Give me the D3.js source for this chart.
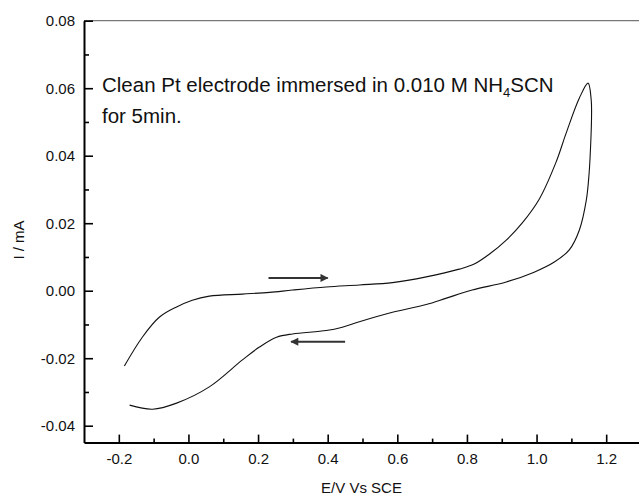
<!DOCTYPE html>
<html>
<head>
<meta charset="utf-8">
<script src="https://cdn.jsdelivr.net/npm/d3@7"></script>
<style>
  body { margin: 0; background: #fff; }
  svg { display: block; font-family: "Liberation Sans", Arial, Helvetica, sans-serif; }
</style>
</head>
<body>
<div id="chart"></div>
<script>
// forward scan (E in V vs SCE, I in mA)
const fwdE = [-0.184, -0.132, -0.083, -0.034, 0.011, 0.060, 0.155, 0.233, 0.299, 0.396, 0.491, 0.586, 0.683, 0.778, 0.821, 0.864, 0.913, 0.959, 1.008, 1.056, 1.085, 1.123, 1.148];
const fwdI = [-0.0223, -0.0137, -0.0078, -0.0048, -0.0028, -0.0016, -0.0010, -0.0005, 0.0002, 0.0011, 0.0017, 0.0024, 0.0041, 0.0064, 0.0079, 0.0108, 0.0150, 0.0201, 0.0272, 0.0381, 0.0467, 0.0571, 0.0615];
// reverse scan
const revE = [1.157, 1.158, 1.156, 1.151, 1.143, 1.123, 1.094, 1.051, 0.993, 0.913, 0.815, 0.741, 0.683, 0.586, 0.491, 0.442, 0.396, 0.299, 0.253, 0.204, 0.155, 0.060, -0.034, -0.103, -0.169];
const revI = [0.0565, 0.0521, 0.0447, 0.0349, 0.0269, 0.0180, 0.0121, 0.0085, 0.0055, 0.0026, 0.0002, -0.0022, -0.0041, -0.0064, -0.0092, -0.0108, -0.0118, -0.0128, -0.0138, -0.0167, -0.0205, -0.0285, -0.0333, -0.0351, -0.0339];

// scan direction arrows: [E start, E end, I]
const arrows = [[0.23, 0.40, 0.0038], [0.45, 0.295, -0.0151]];

// ticks
const xTicks = [-0.2, 0.0, 0.2, 0.4, 0.6, 0.8, 1.0, 1.2];
const xTickLabels = ["-0.2", "0.0", "0.2", "0.4", "0.6", "0.8", "1.0", "1.2"];
const xMinor = [-0.1, 0.1, 0.3, 0.5, 0.7, 0.9, 1.1];
const yTicks = [-0.04, -0.02, 0.00, 0.02, 0.04, 0.06, 0.08];
const yTickLabels = ["-0.04", "-0.02", "0.00", "0.02", "0.04", "0.06", "0.08"];
const yMinor = [-0.03, -0.01, 0.01, 0.03, 0.05, 0.07];

const width = 639, height = 496;
const margin = {top: 20.7, right: -2, bottom: 53.4, left: 84};

const x = d3.scaleLinear().domain([-0.3, 1.3]).range([margin.left, width - margin.right]);
const y = d3.scaleLinear().domain([-0.045, 0.08]).range([height - margin.bottom, margin.top]);

const svg = d3.select("#chart").append("svg")
  .attr("width", width)
  .attr("height", height);

svg.append("rect").attr("width", width).attr("height", height).attr("fill", "#fff");

// arrow head
svg.append("defs").append("marker")
  .attr("id", "head")
  .attr("viewBox", "0 0 10 10")
  .attr("refX", 9).attr("refY", 5)
  .attr("markerWidth", 6).attr("markerHeight", 4)
  .attr("markerUnits", "strokeWidth")
  .attr("orient", "auto")
  .append("path")
  .attr("d", "M0,0L10,5L0,10z")
  .attr("fill", "#333");

// top frame line
svg.append("line")
  .attr("x1", x(-0.3)).attr("x2", width)
  .attr("y1", y(0.08)).attr("y2", y(0.08))
  .attr("stroke", "#777").attr("stroke-width", 1.3);

// minor ticks
svg.append("g")
  .attr("transform", `translate(0,${y(-0.045)})`)
  .call(d3.axisBottom(x).tickValues(xMinor).tickSize(-4).tickFormat(""))
  .call(g => g.select(".domain").remove())
  .call(g => g.selectAll("line").attr("stroke-width", 1.6));
svg.append("g")
  .attr("transform", `translate(${x(-0.3)},0)`)
  .call(d3.axisLeft(y).tickValues(yMinor).tickSize(-5).tickFormat(""))
  .call(g => g.select(".domain").remove())
  .call(g => g.selectAll("line").attr("stroke-width", 1.6));

// x axis
svg.append("g")
  .attr("transform", `translate(0,${y(-0.045)})`)
  .call(d3.axisBottom(x).tickValues(xTicks).tickSize(-8).tickSizeOuter(0).tickPadding(11)
    .tickFormat((d, i) => xTickLabels[i]))
  .call(g => g.select(".domain").attr("stroke-width", 2))
  .call(g => g.selectAll("line").attr("stroke-width", 1.6))
  .call(g => g.selectAll("text").attr("font-size", 15).attr("fill", "#111").attr("font-family", null));

// y axis
svg.append("g")
  .attr("transform", `translate(${x(-0.3)},0)`)
  .call(d3.axisLeft(y).tickValues(yTicks).tickSize(-9).tickSizeOuter(0).tickPadding(9)
    .tickFormat((d, i) => yTickLabels[i]))
  .call(g => g.select(".domain").attr("stroke-width", 2))
  .call(g => g.selectAll("line").attr("stroke-width", 1.6))
  .call(g => g.selectAll("text").attr("font-size", 15).attr("fill", "#111").attr("font-family", null));

// axis titles
svg.append("text")
  .attr("x", (x(-0.3) + width) / 2).attr("y", 493)
  .attr("text-anchor", "middle").attr("font-size", 15).attr("fill", "#111")
  .text("E/V Vs SCE");
svg.append("text")
  .attr("transform", "translate(24,240) rotate(-90)")
  .attr("text-anchor", "middle").attr("font-size", 15).attr("fill", "#111")
  .text("I / mA");

// the voltammogram, forward then reverse
const pts = fwdE.map((e, i) => [e, fwdI[i]]).concat(revE.map((e, i) => [e, revI[i]]));
const line = d3.line()
  .x(d => x(d[0]))
  .y(d => y(d[1]))
  .curve(d3.curveCatmullRom.alpha(0.5));
svg.append("path")
  .attr("d", line(pts))
  .attr("fill", "none")
  .attr("stroke", "#111")
  .attr("stroke-width", 1.1);

// direction arrows
svg.selectAll(".arrow")
  .data(arrows)
  .join("line")
  .attr("class", "arrow")
  .attr("x1", d => x(d[0])).attr("x2", d => x(d[1]))
  .attr("y1", d => y(d[2])).attr("y2", d => y(d[2]))
  .attr("stroke", "#333").attr("stroke-width", 2)
  .attr("marker-end", "url(#head)");

// annotation
const note = svg.append("text").attr("font-size", 20.5).attr("fill", "#111");
note.append("tspan").attr("x", 102).attr("y", 92).text("Clean Pt electrode immersed in 0.010 M NH");
note.append("tspan").attr("font-size", 13).attr("dy", 5).text("4");
note.append("tspan").attr("dy", -5).text("SCN");
svg.append("text").attr("x", 102).attr("y", 123).attr("font-size", 20.5).attr("fill", "#111")
  .text("for 5min.");
</script>
</body>
</html>
